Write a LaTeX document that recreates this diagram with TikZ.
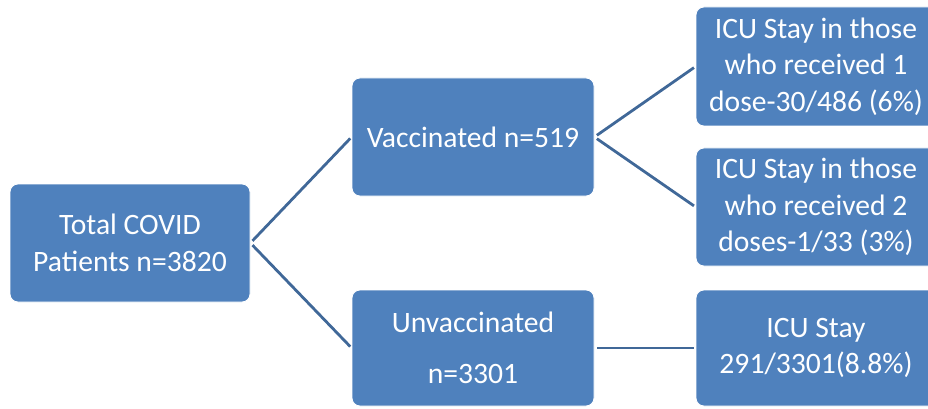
\documentclass[tikz,border=0pt]{standalone}
\usepackage{fontspec}
\setmainfont{Carlito}
\definecolor{boxblue}{RGB}{79,129,189}
\definecolor{lineblue}{RGB}{64,104,152}

\begin{document}
\begin{tikzpicture}[x=0.5pt,y=0.5pt,
  box/.style={rectangle,rounded corners=4pt,fill=boxblue,draw=white,line width=0.4pt,
    text=white,align=center,inner sep=0pt,minimum width=120pt,minimum height=59pt,
    font=\fontsize{14.8}{18.3}\selectfont},
  link/.style={draw=lineblue,line width=1.4pt,shorten <=1.5pt,shorten >=1pt}]
\useasboundingbox (0,0) rectangle (928,408);

\node [box] (total) at (130,165) {Total COVID\\Patients n=3820};
\node [box,minimum width=121pt] (vacc) at (473,271) {Vaccinated n=519};
\node [box,minimum width=121pt,minimum height=58pt] (unvacc) at (473,60) {Unvaccinated\\[7.5pt]n=3301};
\node [box,minimum height=59.5pt] (icuone) at (816,341.5) {ICU Stay in those\\who received 1\\dose-30/486 (6\%)};
\node [box] (icutwo) at (816,201) {ICU Stay in those\\who received 2\\doses-1/33 (3\%)};
\node [box,minimum height=58pt] (icuun) at (816,60) {ICU Stay\\291/3301(8.8\%)};

\draw [link] (total.east) -- (vacc.west);
\draw [link] (total.east) -- (unvacc.west);
\draw [link] (vacc.east) -- (icuone.west);
\draw [link] (vacc.east) -- (icutwo.west);
\draw [link] (unvacc.east) -- (icuun.west);

\end{tikzpicture}
\end{document}
